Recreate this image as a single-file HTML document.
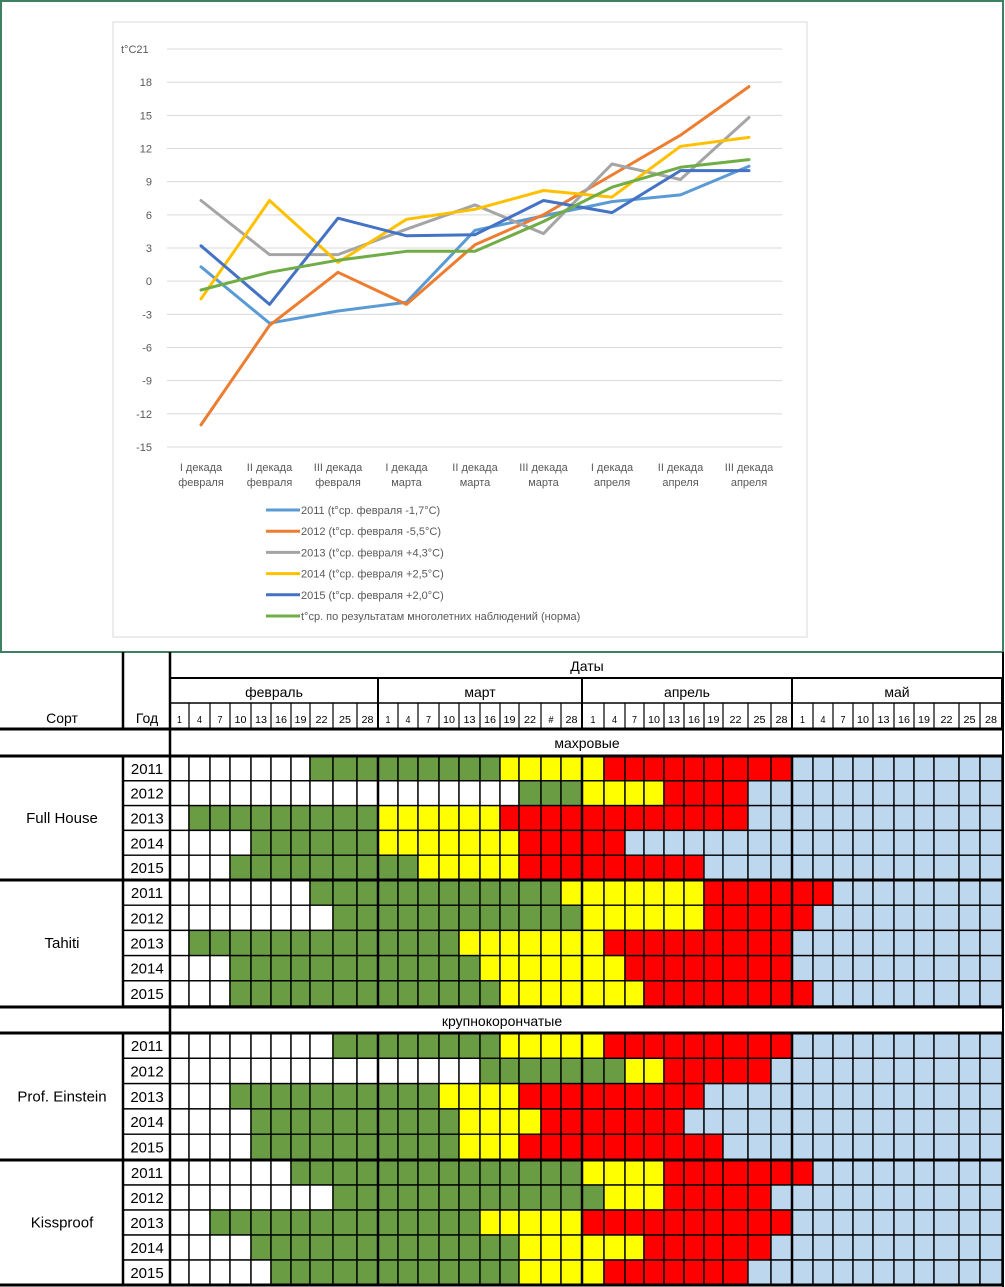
<!DOCTYPE html>
<html><head><meta charset="utf-8"><style>
body{margin:0;background:#fff;}
svg{display:block;font-family:"Liberation Sans","DejaVu Sans",sans-serif;}
</style></head><body>
<svg id="root" width="1005" height="1287" viewBox="0 0 1005 1287" xmlns="http://www.w3.org/2000/svg">
<rect x="0" y="0" width="1005" height="1287" fill="#fff"/>
<rect x="1" y="1" width="1002" height="651" fill="none" stroke="#3f7f64" stroke-width="2"/>
<rect x="113" y="22" width="694" height="615" fill="#fff" stroke="#d9d9d9" stroke-width="1"/>
<g id="chart"></g>
<g id="table"></g>
</svg>
<script>
const categories=[["I декада","февраля"],["II декада","февраля"],["III декада","февраля"],["I декада","марта"],["II декада","марта"],["III декада","марта"],["I декада","апреля"],["II декада","апреля"],["III декада","апреля"]];
const yTicks=[21,18,15,12,9,6,3,0,-3,-6,-9,-12,-15];
const s2011=[1.3,-3.8,-2.7,-1.9,4.6,5.9,7.2,7.8,10.4];
const s2012=[-13,-4,0.8,-2.1,3.3,6.0,9.6,13.2,17.6];
const s2013=[7.3,2.4,2.4,4.7,6.9,4.3,10.6,9.2,14.8];
const s2014=[-1.6,7.3,1.7,5.6,6.5,8.2,7.6,12.2,13.0];
const s2015=[3.2,-2.1,5.7,4.1,4.2,7.3,6.2,10.0,10.0];
const sNorm=[-0.8,0.8,1.9,2.7,2.7,5.4,8.5,10.3,11.0];
const seriesNames=["2011 (t°ср. февраля -1,7°C)","2012 (t°ср. февраля -5,5°C)","2013 (t°ср. февраля +4,3°C)","2014 (t°ср. февраля +2,5°C)","2015 (t°ср. февраля +2,0°C)","t°ср. по результатам многолетних наблюдений (норма)"];

const varieties=["Full House","Tahiti","Prof. Einstein","Kissproof"];
const years=["2011","2012","2013","2014","2015"];
const months=["февраль","март","апрель","май"];
const dayLabels=["1","4","7","10","13","16","19","22","25","28"];
const dayLabelsMar=["1","4","7","10","13","16","19","22","#","28"];
const fullHouse=["WWWWWWWGGGGGGGGGYYYYYRRRRRRRRRBBBBBBBBBB","WWWWWWWWWWWWWWWWWGGGYYYYRRRRBBBBBBBBBBBB","WGGGGGGGGGYYYYYYRRRRRRRRRRRRBBBBBBBBBBBB","WWWWGGGGGGYYYYYYYRRRRRBBBBBBBBBBBBBBBBBB","WWWGGGGGGGGGYYYYYRRRRRRRRRBBBBBBBBBBBBBB"];
const tahiti=["WWWWWWWGGGGGGGGGGGGYYYYYYYRRRRRRBBBBBBBB","WWWWWWWWGGGGGGGGGGGGYYYYYYRRRRRBBBBBBBBB","WGGGGGGGGGGGGGYYYYYYYRRRRRRRRRBBBBBBBBBB","WWWGGGGGGGGGGGGYYYYYYYRRRRRRRRBBBBBBBBBB","WWWGGGGGGGGGGGGGYYYYYYYRRRRRRRRBBBBBBBBB"];
const einstein=["WWWWWWWWGGGGGGGGYYYYYRRRRRRRRRBBBBBBBBBB","WWWWWWWWWWWWWWWGGGGGGGYYRRRRRBBBBBBBBBBB","WWWGGGGGGGGGGYYYYRRRRRRRRRBBBBBBBBBBBBBB","WWWWGGGGGGGGGGYYYYRRRRRRRBBBBBBBBBBBBBBB","WWWWGGGGGGGGGGYYYRRRRRRRRRRBBBBBBBBBBBBB"];
const kissproof=["WWWWWWGGGGGGGGGGGGGGYYYYRRRRRRRBBBBBBBBB","WWWWWWWWGGGGGGGGGGGGGYYYRRRRRBBBBBBBBBBB","WWGGGGGGGGGGGGGYYYYYRRRRRRRRRRBBBBBBBBBB","WWWWGGGGGGGGGGGGGYYYYYYRRRRRRBBBBBBBBBBB","WWWWWGGGGGGGGGGGGYYYYRRRRRRRBBBBBBBBBBBB"];

const NS="http://www.w3.org/2000/svg";
function mk(tag,attrs,parent,text){const e=document.createElementNS(NS,tag);for(const k in attrs)e.setAttribute(k,attrs[k]);if(text!==undefined)e.textContent=text;parent.appendChild(e);return e;}

// ---- chart ----
const chart=document.getElementById('chart');
const yTop=49,yBot=447,yMax=21,yMin=-15;
const yScale=v=>yTop+(yMax-v)/(yMax-yMin)*(yBot-yTop);
const x0=201,xStep=68.5;
const xScale=i=>x0+i*xStep;
yTicks.forEach(t=>{
  const y=yScale(t);
  const gl=mk('line',{x1:167,x2:782,y1:y,y2:y,stroke:'#d9d9d9','stroke-width':1},chart);
  
  
  if(t!==21){
    const tl=mk('text',{x:152,y:y+4,'text-anchor':'end','font-size':11,fill:'#595959'},chart,String(t));
    
    
  }
});
const yl=mk('text',{x:121,y:53,'font-size':11,fill:'#595959'},chart,'t°C21');


categories.forEach((c,i)=>{
  const t=mk('text',{x:xScale(i),y:471,'text-anchor':'middle','font-size':11,fill:'#595959'},chart);
  
  
  mk('tspan',{x:xScale(i),dy:0},t,c[0]);
  mk('tspan',{x:xScale(i),dy:15},t,c[1]);
});
const allSeries=[s2011,s2012,s2013,s2014,s2015,sNorm];
const colors=['#5b9bd5','#ed7d31','#a5a5a5','#ffc000','#4472c4','#70ad47'];
const seriesKeys=['2011','2012','2013','2014','2015','norm'];
allSeries.forEach((s,k)=>{
  const pts=s.map((v,i)=>xScale(i).toFixed(1)+','+yScale(v).toFixed(1)).join(' ');
  const pl=mk('polyline',{points:pts,fill:'none',stroke:colors[k],'stroke-width':3,'stroke-linejoin':'round','stroke-linecap':'round'},chart);
  
  
});
seriesNames.forEach((n,k)=>{
  const y=510+k*21.2;
  const g=mk('g',{},chart);
  
  
  mk('line',{x1:266,x2:300,y1:y,y2:y,stroke:colors[k],'stroke-width':3},g);
  mk('text',{x:301,y:y+4,'font-size':11,fill:'#595959'},g,n);
});

// ---- table ----
const tb=document.getElementById('table');
const colX=[170,189,210,230,251,271,291,310,333,357,378,398,418,439,459,480,500,519,541,561,582,604,625,644,664,684,704,723,748,771,792,813,833,853,873,894,914,934,959,980,1002];
const colorMap={W:'#ffffff',G:'#6a9c43',Y:'#ffff00',R:'#ff0000',B:'#bdd7ee'};
const groups=[{rows:fullHouse,top:756,h:24.8,name:varieties[0]},{rows:tahiti,top:880,h:25.2,name:varieties[1]},{rows:einstein,top:1033,h:25.3,name:varieties[2]},{rows:kissproof,top:1160,h:25,name:varieties[3]}];
groups.forEach(g=>{
  g.rows.forEach((row,r)=>{
    const y=g.top+r*g.h;
    for(let c=0;c<40;c++){
      const cell=mk('rect',{x:colX[c],y:y,width:colX[c+1]-colX[c],height:g.h,fill:colorMap[row[c]],stroke:'#000','stroke-width':1.4},tb);
      
      
    }
    mk('rect',{x:123,y:y,width:47,height:g.h,fill:'#fff',stroke:'#000','stroke-width':1.4},tb);
    const yt=mk('text',{x:147,y:y+g.h/2+5.5,'text-anchor':'middle','font-size':15,fill:'#000'},tb,years[r]);
    
    
  });
  const vn=mk('text',{x:62,y:g.top+2.5*g.h+5,'text-anchor':'middle','font-size':15,fill:'#000'},tb,g.name);
  
  
});
// header
const hl=(x1,y1,x2,y2,w)=>mk('line',{x1,y1,x2,y2,stroke:'#000','stroke-width':w},tb);
hl(170,678,1002,678,2);hl(170,703,1002,703,1.4);
for(let c=0;c<=40;c++){hl(colX[c],703,colX[c],728,1.2);}
[170,378,582,792,1002].forEach(x=>hl(x,678,x,728,2));
hl(170,652,170,1285,2.5);hl(123,652,123,728,2.5);
hl(0,729,1004,729,3);hl(0,756,1004,756,3);hl(0,880,1004,880,3);hl(0,1007,1004,1007,3);hl(0,1033,1004,1033,3);hl(0,1160,1004,1160,3);hl(0,1285,1004,1285,3);
[378,582,792].forEach(x=>{hl(x,756,x,1007,2.5);hl(x,1033,x,1285,2.5);});
hl(123,756,123,1007,2.5);hl(123,1033,123,1285,2.5);hl(1003,652,1003,1287,2);
const ht=mk('text',{x:587,y:671,'text-anchor':'middle','font-size':14,fill:'#000'},tb,'Даты');


months.forEach((m,i)=>{
  const t=mk('text',{x:(colX[i*10]+colX[i*10+10])/2,y:697,'text-anchor':'middle','font-size':14,fill:'#000'},tb,m);
  
  
});
for(let c=0;c<40;c++){
  const lab=(c>=10&&c<20)?dayLabelsMar[c%10]:dayLabels[c%10];
  const t=mk('text',{x:(colX[c]+colX[c+1])/2,y:723,'text-anchor':'middle','font-size':10,fill:'#000','textLength':lab.length>1?12:5,'lengthAdjust':'spacingAndGlyphs'},tb,lab);
  
  
}
const t1=mk('text',{x:62,y:723,'text-anchor':'middle','font-size':14,fill:'#000'},tb,'Сорт');


const t2=mk('text',{x:147,y:723,'text-anchor':'middle','font-size':14,fill:'#000'},tb,'Год');


const g1=mk('text',{x:587,y:748,'text-anchor':'middle','font-size':14,fill:'#000'},tb,'махровые');


const g2=mk('text',{x:502,y:1026,'text-anchor':'middle','font-size':14,fill:'#000'},tb,'крупнокорончатые');


</script>
</body></html>
